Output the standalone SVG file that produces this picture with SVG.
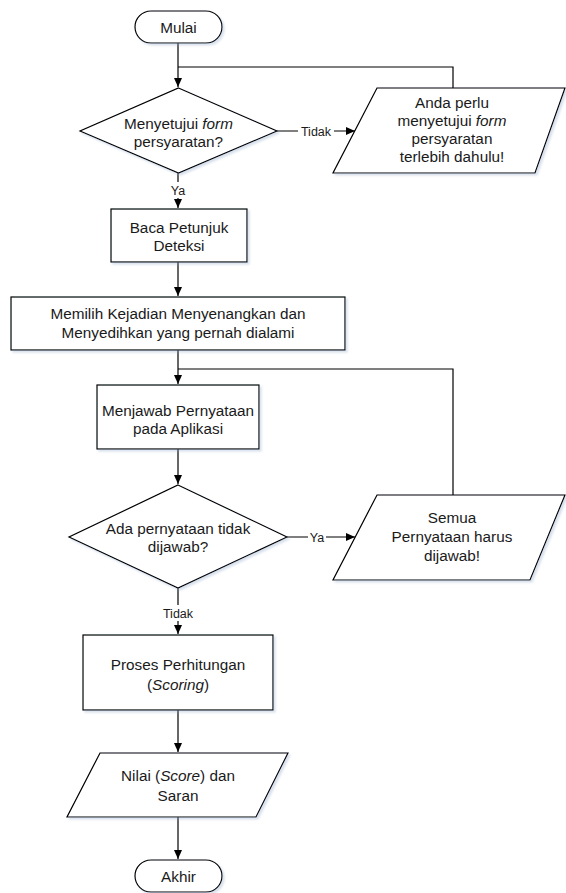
<svg xmlns="http://www.w3.org/2000/svg" width="566" height="893" viewBox="0 0 566 893">
<defs>
<marker id="arr" markerWidth="10" markerHeight="8" refX="9" refY="4" orient="auto" markerUnits="userSpaceOnUse">
<path d="M0,0 L9,4 L0,8 Z" fill="#000"/>
</marker>
<filter id="sh" x="-10%" y="-10%" width="130%" height="130%">
<feDropShadow dx="2" dy="2" stdDeviation="1.2" flood-color="#8fa6c8" flood-opacity="0.35"/>
</filter>
<style>
.s{fill:#fff;stroke:#000;stroke-width:1.2;filter:url(#sh)}
.t{font-family:"Liberation Sans",Arial,sans-serif;font-size:15.3px;fill:#1a1a1a;text-anchor:middle}
.l{font-family:"Liberation Sans",Arial,sans-serif;font-size:12.5px;fill:#1a1a1a;text-anchor:middle}
.c{fill:none;stroke:#000;stroke-width:1.2}
.a{marker-end:url(#arr)}
.bg{fill:#fff}
</style>
</defs>
<rect width="566" height="893" fill="#fff"/>
<g id="connectors">
<path class="c a" d="M178,43 V87"/>
<path class="c" d="M453,88 V67 H178"/>
<path class="c a" d="M277,131 H355"/>
<path class="c a" d="M178,173 V208"/>
<path class="c a" d="M178,262 V296"/>
<path class="c a" d="M178,350 V384"/>
<path class="c" d="M453,495 V369 H178"/>
<path class="c a" d="M178,449 V484"/>
<path class="c a" d="M287,537 H355"/>
<path class="c a" d="M178,588 V634"/>
<path class="c a" d="M178,710 V752"/>
<path class="c a" d="M178,817 V859"/>
<rect class="bg" x="298" y="123" width="36" height="16"/>
<text class="l" x="316" y="135.5">Tidak</text>
<rect class="bg" x="169" y="182" width="18" height="16"/>
<text class="l" x="178" y="194.5">Ya</text>
<rect class="bg" x="308" y="529" width="18" height="16"/>
<text class="l" x="317" y="541.5">Ya</text>
<rect class="bg" x="160" y="605" width="36" height="16"/>
<text class="l" x="178" y="617.5">Tidak</text>
</g>
<g id="mulai">
<rect class="s" x="135" y="11" width="87" height="32" rx="16"/>
<text class="t" x="178.5" y="32.5">Mulai</text>
</g>
<g id="setuju">
<polygon class="s" points="178.5,88 277,131 178.5,173 80,131"/>
<text class="t" x="178.5" y="128.5">Menyetujui <tspan font-style="italic">form</tspan></text>
<text class="t" x="178.5" y="146.5">persyaratan?</text>
</g>
<g id="anda">
<polygon class="s" points="377,88 565,88 535,173 333,173"/>
<text class="t" x="452" y="107.5">Anda perlu</text>
<text class="t" x="452" y="125.5">menyetujui <tspan font-style="italic">form</tspan></text>
<text class="t" x="452" y="143.5">persyaratan</text>
<text class="t" x="452" y="162">terlebih dahulu!</text>
</g>
<g id="baca">
<rect class="s" x="111" y="209" width="136" height="53"/>
<text class="t" x="179" y="232.5">Baca Petunjuk</text>
<text class="t" x="179" y="250.5">Deteksi</text>
</g>
<g id="memilih">
<rect class="s" x="11" y="297" width="334" height="53"/>
<text class="t" x="178" y="318.5">Memilih Kejadian Menyenangkan dan</text>
<text class="t" x="178" y="337.5">Menyedihkan yang pernah dialami</text>
</g>
<g id="menjawab">
<rect class="s" x="97" y="385" width="162" height="64"/>
<text class="t" x="178" y="415.5">Menjawab Pernyataan</text>
<text class="t" x="178" y="433.5">pada Aplikasi</text>
</g>
<g id="ada">
<polygon class="s" points="178,485 287,537 178,588 69,537"/>
<text class="t" x="178" y="533.5">Ada pernyataan tidak</text>
<text class="t" x="178" y="551.5">dijawab?</text>
</g>
<g id="semua">
<polygon class="s" points="377,495 565,495 530,580 333,580"/>
<text class="t" x="452" y="522.5">Semua</text>
<text class="t" x="452" y="541.5">Pernyataan harus</text>
<text class="t" x="452" y="561">dijawab!</text>
</g>
<g id="proses">
<rect class="s" x="83" y="635" width="190" height="75"/>
<text class="t" x="178" y="669.5">Proses Perhitungan</text>
<text class="t" x="178" y="689.5">(<tspan font-style="italic">Scoring</tspan>)</text>
</g>
<g id="nilai">
<polygon class="s" points="100,753 288,753 256,817 67,817"/>
<text class="t" x="178" y="780.5">Nilai (<tspan font-style="italic">Score</tspan>) dan</text>
<text class="t" x="178" y="800.5">Saran</text>
</g>
<g id="akhir">
<rect class="s" x="135" y="860" width="87" height="32" rx="16"/>
<text class="t" x="178.5" y="881.5">Akhir</text>
</g>
</svg>
